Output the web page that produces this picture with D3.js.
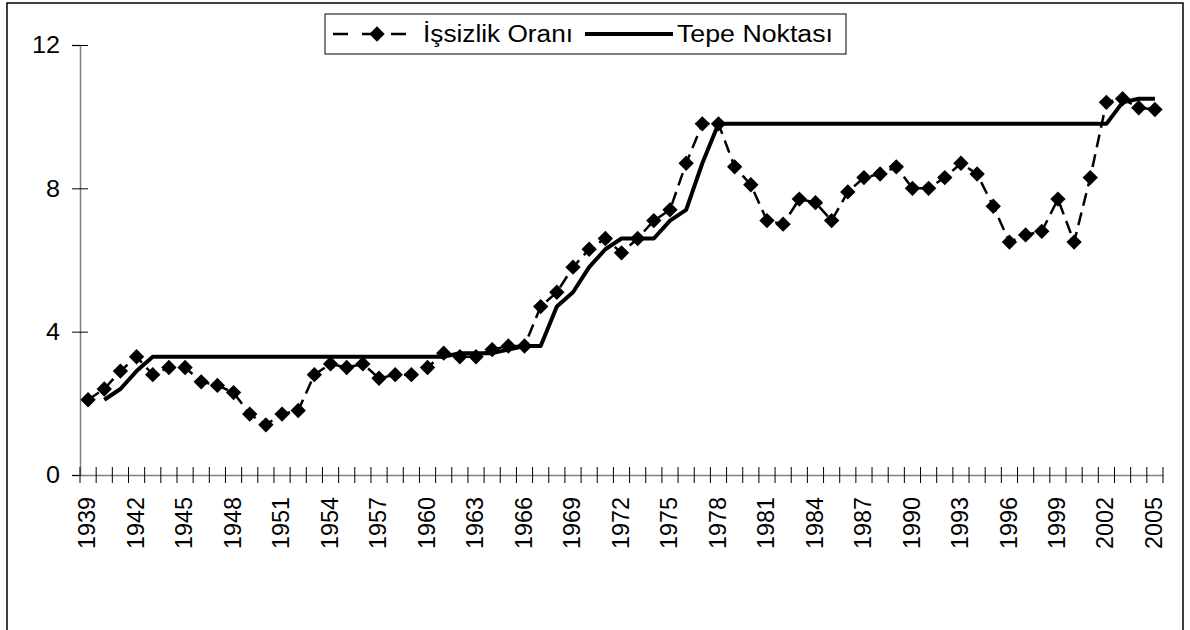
<!DOCTYPE html>
<meta charset="utf-8">
<title>İşsizlik Oranı</title>
<style>
body { margin:0; background:#fff; }
svg { display:block; }
</style>
<body>
<svg width="1190" height="630" id="chart"></svg>
<script src="https://d3js.org/d3.v7.min.js"></script>
<script>
/* data */
var years = [1939,1940,1941,1942,1943,1944,1945,1946,1947,1948,1949,1950,1951,1952,1953,1954,1955,1956,1957,1958,
  1959,1960,1961,1962,1963,1964,1965,1966,1967,1968,1969,1970,1971,1972,1973,1974,1975,1976,1977,1978,
  1979,1980,1981,1982,1983,1984,1985,1986,1987,1988,1989,1990,1991,1992,1993,1994,1995,1996,1997,1998,
  1999,2000,2001,2002,2003,2004,2005];

var rate = [2.1,2.4,2.9,3.3,2.8,3.0,3.0,2.6,2.5,2.3,1.7,1.4,1.7,1.8,2.8,3.1,3.0,3.1,2.7,2.8,
  2.8,3.0,3.4,3.3,3.3,3.5,3.6,3.6,4.7,5.1,5.8,6.3,6.6,6.2,6.6,7.1,7.4,8.7,9.8,9.8,
  8.6,8.1,7.1,7.0,7.7,7.6,7.1,7.9,8.3,8.4,8.6,8.0,8.0,8.3,8.7,8.4,7.5,6.5,6.7,6.8,
  7.7,6.5,8.3,10.4,10.5,10.25,10.2];

var peak = [null,2.1,2.4,2.9,3.3,3.3,3.3,3.3,3.3,3.3,3.3,3.3,3.3,3.3,3.3,3.3,3.3,3.3,3.3,3.3,
  3.3,3.3,3.3,3.4,3.4,3.4,3.5,3.6,3.6,4.7,5.1,5.8,6.3,6.6,6.6,6.6,7.1,7.4,8.7,9.8,
  9.8,9.8,9.8,9.8,9.8,9.8,9.8,9.8,9.8,9.8,9.8,9.8,9.8,9.8,9.8,9.8,9.8,9.8,9.8,9.8,
  9.8,9.8,9.8,9.8,10.4,10.5,10.5];

var yTicks = [0,4,8,12];
var labelYears = years.filter(function(d, i) { return i % 3 == 0; });
var seriesNames = ["İşsizlik Oranı", "Tepe Noktası"];

var font = "Arial, 'Liberation Sans', sans-serif";

var svg = d3.select("#chart");

// outer frame
svg.append("rect")
    .attr("x", 7).attr("y", 3)
    .attr("width", 1176).attr("height", 660)
    .attr("fill", "#fff")
    .attr("stroke", "#000")
    .attr("stroke-width", 1.5);

var x = d3.scaleBand()
    .domain(years)
    .range([80, 1163]);

var y = d3.scaleLinear()
    .domain([0, 12])
    .range([475, 45]);

function cx(d, i) { return x(years[i]) + x.bandwidth() / 2; }

// y axis
var gy = svg.append("g")
    .attr("transform", "translate(80,0)")
    .call(d3.axisLeft(y).tickValues(yTicks).tickSize(8).tickPadding(12))
    .attr("font-family", font)
    .attr("font-size", 24);
gy.select(".domain").attr("stroke", "#808080").attr("stroke-width", 1.5);
gy.selectAll(".tick line").attr("x1", 8).attr("x2", -8).attr("stroke", "#000");
gy.selectAll(".tick text")
    .attr("fill", "#000")
    .attr("textLength", function(d) { return String(d).length * 14; })
    .attr("lengthAdjust", "spacingAndGlyphs");

// x axis: labels every third year, ticks on category boundaries
var gx = svg.append("g")
    .attr("transform", "translate(0,475)")
    .call(d3.axisBottom(x).tickValues(labelYears).tickSize(0).tickFormat(d3.format("d")))
    .attr("font-family", font)
    .attr("font-size", 23.5);
gx.select(".domain").attr("stroke", "#808080").attr("stroke-width", 1.5);
gx.selectAll(".tick text")
    .attr("fill", "#000")
    .attr("transform", "rotate(-90)")
    .attr("text-anchor", "end")
    .attr("x", -22)
    .attr("y", 0)
    .attr("dy", "0.3em")
    .attr("textLength", 52)
    .attr("lengthAdjust", "spacingAndGlyphs");

gx.selectAll(".bound")
    .data(years.concat([null]))
  .enter().append("line")
    .attr("class", "bound")
    .attr("x1", function(d, i) { return 80 + i * x.step(); })
    .attr("x2", function(d, i) { return 80 + i * x.step(); })
    .attr("y1", -8).attr("y2", 8)
    .attr("stroke", "#000")
    .attr("stroke-width", 1);

// İşsizlik Oranı: dashed line with diamonds
var lineRate = d3.line()
    .x(cx)
    .y(function(d) { return y(d); });

svg.append("path")
    .datum(rate)
    .attr("d", lineRate)
    .attr("fill", "none")
    .attr("stroke", "#000")
    .attr("stroke-width", 2.5)
    .attr("stroke-dasharray", "13,7");

var diamond = d3.symbol().type(d3.symbolSquare).size(118);

svg.selectAll(".mark")
    .data(rate)
  .enter().append("path")
    .attr("class", "mark")
    .attr("d", diamond)
    .attr("transform", function(d, i) { return "translate(" + cx(d, i) + "," + y(d) + ") rotate(45)"; })
    .attr("fill", "#000");

// Tepe Noktası: solid line
var linePeak = d3.line()
    .defined(function(d) { return d != null; })
    .x(cx)
    .y(function(d) { return y(d); });

svg.append("path")
    .datum(peak)
    .attr("d", linePeak)
    .attr("fill", "none")
    .attr("stroke", "#000")
    .attr("stroke-width", 4)
    .attr("stroke-linejoin", "round");

// legend
var lg = svg.append("g").attr("font-family", font);
lg.append("rect")
    .attr("x", 325).attr("y", 14)
    .attr("width", 521).attr("height", 40)
    .attr("fill", "#fff")
    .attr("stroke", "#000")
    .attr("stroke-width", 1);

lg.append("line")
    .attr("x1", 333).attr("x2", 408)
    .attr("y1", 34).attr("y2", 34)
    .attr("stroke", "#000")
    .attr("stroke-width", 2.5)
    .attr("stroke-dasharray", "15,14");
lg.append("path")
    .attr("d", diamond)
    .attr("transform", "translate(377,34) rotate(45)")
    .attr("fill", "#000");
lg.append("text")
    .attr("x", 423).attr("y", 42)
    .attr("font-size", "23.5px")
    .attr("textLength", 150)
    .attr("lengthAdjust", "spacingAndGlyphs")
    .text(seriesNames[0]);

lg.append("line")
    .attr("x1", 585).attr("x2", 673)
    .attr("y1", 34).attr("y2", 34)
    .attr("stroke", "#000")
    .attr("stroke-width", 4);
lg.append("text")
    .attr("x", 677).attr("y", 42)
    .attr("font-size", "23.5px")
    .attr("textLength", 156)
    .attr("lengthAdjust", "spacingAndGlyphs")
    .text(seriesNames[1]);
</script>
</body>
